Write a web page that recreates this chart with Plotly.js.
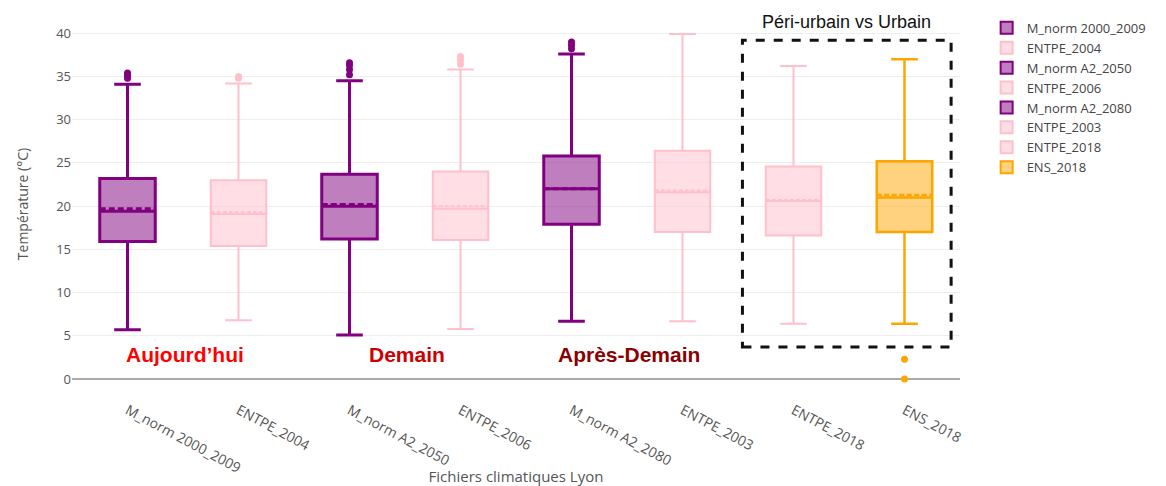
<!DOCTYPE html>
<html><head><meta charset="utf-8">
<script src="https://cdn.plot.ly/plotly-3.0.1.min.js"></script>
<style>html,body{margin:0;padding:0;background:#fff}#chart{width:1166px;height:486px}</style>
</head><body><div id="chart"></div>
<script>
const categories = ["M_norm 2000_2009","ENTPE_2004","M_norm A2_2050","ENTPE_2006","M_norm A2_2080","ENTPE_2003","ENTPE_2018","ENS_2018"];
const lowerFence = [5.7, 6.8, 5.1, 5.8, 6.7, 6.7, 6.4, 6.4];
const q1Values   = [15.9, 15.4, 16.2, 16.1, 17.9, 17.0, 16.6, 17.0];
const medians    = [19.4, 19.1, 20.0, 19.7, 22.0, 21.6, 20.6, 21.0];
const means      = [19.7, 19.3, 20.2, 20.0, 22.0, 21.8, 20.7, 21.3];
const q3Values   = [23.2, 23.0, 23.7, 24.0, 25.8, 26.4, 24.6, 25.2];
const upperFence = [34.1, 34.2, 34.5, 35.8, 37.6, 39.9, 36.2, 37.0];
const outliers   = [[34.8, 35.1, 35.4], [34.8, 35.0], [35.2, 35.8, 36.3, 36.6], [36.4, 36.9, 37.3], [38.2, 38.6, 39.0], [], [], [2.3, 0]];
const groups     = ["purple","pink","purple","pink","purple","pink","pink","orange"];
const periodLabels = ["Aujourd’hui","Demain","Après-Demain"];
const periodCats = ["M_norm 2000_2009","M_norm A2_2050","M_norm A2_2080"];

const styles = {
  purple: {line:"#800080", fill:"rgba(128,0,128,0.5)", w:3},
  pink:   {line:"#ffc0cb", fill:"rgba(255,192,203,0.5)", w:2},
  orange: {line:"#ffa500", fill:"rgba(255,165,0,0.5)", w:2.5}
};

const traces = [];
categories.forEach((c,i)=>{
  const s = styles[groups[i]];
  traces.push({
    type:"box", name:c, x:[c],
    q1:[q1Values[i]], median:[medians[i]], q3:[q3Values[i]],
    lowerfence:[lowerFence[i]], upperfence:[upperFence[i]], mean:[means[i]],
    boxmean:true, boxpoints:false, width:0.5, whiskerwidth:0.48,
    line:{color:s.line, width:s.w}, fillcolor:s.fill
  });
});
categories.forEach((c,i)=>{
  if(!outliers[i].length) return;
  const s = styles[groups[i]];
  traces.push({
    type:"scatter", mode:"markers", x:outliers[i].map(()=>c), y:outliers[i],
    marker:{color:s.line, size:7}, showlegend:false, hoverinfo:"y"
  });
});

const annos = [{
  text:"Péri-urbain vs Urbain", xref:"x", yref:"paper", x:6.48, y:1.0, yanchor:"middle",
  showarrow:false, font:{family:"Liberation Sans, Arial", size:18, color:"#111"}
}];
const periodColors = ["#ff0000","#cc0000","#8b0000"];
periodLabels.forEach((t,i)=>{
  annos.push({text:"<b>"+t+"</b>", x:periodCats[i], xshift:57, y:2.8, xref:"x", yref:"y",
    showarrow:false, font:{family:"Liberation Sans Narrow, Arial Narrow, Liberation Sans", size:21, color:periodColors[i]}});
});

const layout = {
  width:1166, height:486,
  margin:{l:72, r:206, t:22, b:100},
  paper_bgcolor:"#fff", plot_bgcolor:"#fff",
  font:{family:"Open Sans, sans-serif", color:"#444", size:13},
  boxmode:"overlay",
  showlegend:true,
  legend:{x:1.03, y:1.025, yanchor:"top", font:{size:13, color:"#444"}, tracegroupgap:1, itemsizing:"constant"},
  xaxis:{type:"category", categoryorder:"array", categoryarray:categories, range:[-0.5,7.5],
    tickangle:28, tickfont:{size:14, color:"#555"}, showgrid:false, zeroline:false,
    ticks:"outside", ticklen:10, tickcolor:"rgba(0,0,0,0)",
    title:{text:"Fichiers climatiques Lyon", font:{size:15, color:"#555"}, standoff:4}},
  yaxis:{range:[-0.8,41.3], dtick:5, tick0:0, gridcolor:"#eee", zeroline:true, zerolinecolor:"#aaa", zerolinewidth:2,
    tickfont:{size:13, color:"#555"},
    title:{text:"Température (°C)", font:{size:14, color:"#555"}, standoff:24}},
  shapes:[{type:"rect", xref:"x", yref:"y", x0:5.54, x1:7.42, y0:3.7, y1:39.2,
    line:{color:"#111", width:3, dash:"dash"}, fillcolor:"rgba(0,0,0,0)"}],
  annotations:annos
};
Plotly.newPlot("chart", traces, layout, {displayModeBar:false});
</script></body></html>
